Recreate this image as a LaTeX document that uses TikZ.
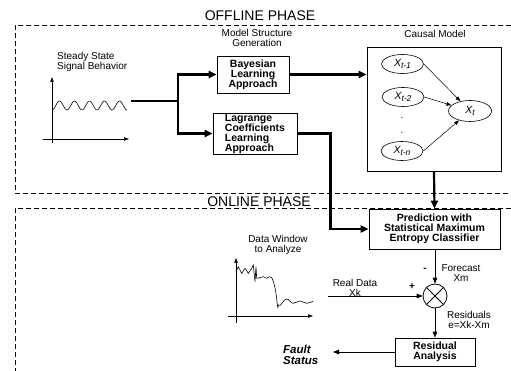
\documentclass[tikz,border=0pt]{standalone}
\usepackage{fontspec}
\setmainfont{Liberation Sans}
\usetikzlibrary{arrows.meta,positioning,shapes.geometric}
\newcommand{\lagv}[1]{X\raisebox{-2.5pt}{\fontsize{8.5}{8.5}\selectfont #1}}
\begin{document}
\begin{tikzpicture}[x=1pt,y=-1pt,
  lbl/.style={font=\fontsize{10}{10}\selectfont,align=center,inner sep=0pt},
  blk/.style={draw,line width=0.8pt,font=\fontsize{10.5}{10}\selectfont\bfseries,align=center,inner sep=0pt},
  var/.style={draw,ellipse,line width=0.6pt,minimum width=42pt,minimum height=19pt,inner sep=0pt,font=\fontsize{10.5}{10}\selectfont\itshape},
  phase/.style={dash pattern=on 5pt off 3pt,line width=0.6pt},
  flow/.style={line width=2.2pt,-{Triangle[length=8pt,width=7pt]}},
  thin/.style={line width=0.8pt,-{Triangle[length=6pt,width=4.5pt]}},
  link/.style={line width=0.5pt,-{Triangle[length=5pt,width=3.5pt]}},
  axis/.style={line width=0.6pt,-{Triangle[length=5pt,width=3.5pt]}}]
\useasboundingbox (0,0) rectangle (511,371);
\pgfmathsetmacro{\amp}{4.5}
\pgfmathsetmacro{\freq}{24}
% phases
\draw[phase](511,25)--(15,25)--(15,193)--(511,193);
\draw[phase](511,208)--(15,208)--(15,371);
\node[font=\fontsize{14}{14}\selectfont,inner sep=0pt](off) at (260,16){OFFLINE PHASE};
\node[font=\fontsize{14}{14}\selectfont,inner sep=0pt](on) at (259,202){ONLINE PHASE};
% steady state signal
\node[lbl,align=left,anchor=west](steady) at (57,62){Steady State\\Signal Behavior};
\draw[axis](52,143)--(52,77);
\draw[axis](43,139)--(129,139);
\draw[line width=0.6pt] plot[smooth,variable=\t,domain=0:75,samples=80](\t+52,{105.5+\amp*cos(\freq*\t)});
\coordinate(sig) at (131,101);
\coordinate(br) at (178,101);
% model structure
\node[lbl](msg) at (257,38){Model Structure\\Generation};
\node[blk,minimum width=72pt,minimum height=37pt](bay) at (253,74.5){Bayesian\\Learning\\Approach};
\node[blk,align=left,minimum width=84pt,minimum height=41pt](lag) at (255,133.5){Lagrange\\Coefficients\\Learning\\Approach};
\draw[line width=2.2pt](sig)--(br);
\draw[flow](br)|-(bay.west);
\draw[flow](br)|-(lag.west);
% causal model
\node[lbl](cm) at (435,34){Causal Model};
\node[draw,line width=0.8pt,minimum width=134pt,minimum height=124pt](causal) at (434,109){};
\node[var](x1) at (402.5,64){\lagv{t-1}};
\node[var](x2) at (403,97){\lagv{t-2}};
\node[var](xn) at (402,151){\lagv{t-n}};
\node[var,minimum width=43pt,minimum height=21pt](xt) at (470,111){\lagv{t}};
\node[lbl](d1) at (402,118){.};
\node[lbl](d2) at (402,133){.};
\draw[link](x1.east)--(xt);
\draw[link](x2.east)--(xt);
\draw[link](xn.east)--(xt);
\draw[flow](bay.east)--(bay.east-|causal.west);
% online part
\node[blk,minimum width=131pt,minimum height=40pt](pred) at (434.5,229){Prediction with\\Statistical Maximum\\Entropy Classifier};
\draw[flow](causal.south)--(pred.north);
\draw[flow](lag.east)--++(33,0)|-(pred.west);
\node[draw,circle,line width=0.8pt,minimum size=24pt,inner sep=0pt](mix) at (435,296){};
\draw[line width=0.8pt](mix.north west)--(mix.south east)(mix.north east)--(mix.south west);
\draw[thin](pred.south-|mix)--(mix.north);
\node[lbl,font=\fontsize{10}{10}\selectfont\bfseries](minus) at (425,270){-};
\node[lbl](fc) at (461,273){Forecast\\Xm};
% data window
\node[lbl](dw) at (278,245){Data Window\\to Analyze};
\draw[axis](236,323)--(236,258);
\draw[axis](228,316)--(313,316);
\draw[line width=0.6pt](236,271.7)--(238.3,266.7)--(241.7,273.3)--(245,268.3)--(248.3,273.3)--(251.7,268.3)--(253.3,265)--(255,281.7)--(256,266.7)--(256.7,278.3)
  to[out=-10,in=180](263.3,276.7)--(266.7,278.3)--(269.3,276.7)--(271.7,277.7)to[out=-60,in=-95](278.3,305)
  to[out=-45,in=180](286.7,299)to[out=0,in=180](293.3,303.3)to[out=0,in=180](300,301)to[out=0,in=180](306.7,303.3)to[out=0,in=200](313.3,301);
\coordinate(real) at (328,296);
\draw[thin](real)--(mix.west);
\node[lbl](rd) at (355,288){Real Data\\Xk};
\node[lbl,font=\fontsize{10}{10}\selectfont\bfseries](plus) at (412,287){+};
% residuals
\node[blk,minimum width=80pt,minimum height=28pt](res) at (435,352){Residual\\Analysis};
\draw[thin](mix.south)--(res.north);
\node[lbl](rs) at (469,320){Residuals\\e=Xk-Xm};
\coordinate(out) at (333,352);
\draw[thin](res.west)--(out);
\node[lbl,align=left,anchor=west,font=\fontsize{11.5}{11}\selectfont\bfseries\itshape](fault) at (283,354.5){Fault\\Status};
\end{tikzpicture}
\end{document}
